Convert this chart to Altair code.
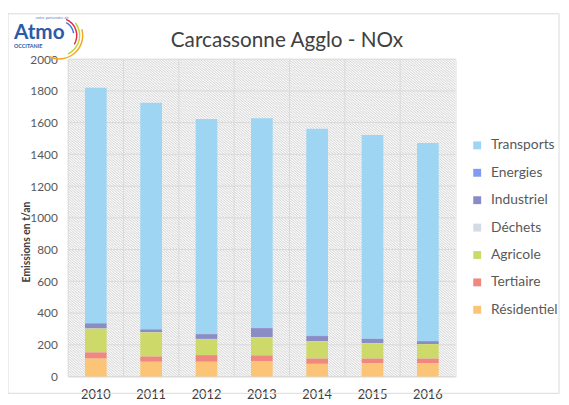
import altair as alt
import pandas as pd

# ---------------- data ----------------
years = ["2010", "2011", "2012", "2013", "2014", "2015", "2016"]
transports = [1484, 1427, 1354, 1322, 1306, 1284, 1248]
energies = [1, 1, 1, 1, 1, 1, 1]
industriel = [32, 18, 30, 56, 32, 26, 18]
dechets = [1, 1, 1, 1, 1, 1, 1]
agricole = [150, 152, 101, 115, 109, 97, 91]
tertiaire = [39, 33, 42, 35, 33, 28, 28]
residentiel = [113, 93, 93, 98, 80, 85, 85]

sectors = ["Transports", "Energies", "Industriel", "Déchets", "Agricole", "Tertiaire", "Résidentiel"]
colors = ["#9DD5F2", "#7F9CF2", "#8A8CC6", "#D5DAE4", "#CDDA6A", "#F08780", "#FBC477"]
y_ticks = [0, 200, 400, 600, 800, 1000, 1200, 1400, 1600, 1800, 2000]

chart_title = "Carcassonne Agglo - NOx"
y_title = "Emissions en t/an"

series = {
    "Transports": transports, "Energies": energies, "Industriel": industriel,
    "Déchets": dechets, "Agricole": agricole, "Tertiaire": tertiaire,
    "Résidentiel": residentiel,
}
rows = []
for i, s in enumerate(sectors):
    for y, v in zip(years, series[s]):
        rows.append({"year": y, "sector": s, "value": v, "stack": len(sectors) - 1 - i})
df = pd.DataFrame(rows)

# ---------------- layout ----------------
W, H = 393, 322
FONT = "Lato"

x_scale = alt.Scale(domain=years, paddingInner=0, paddingOuter=0)
y_scale = alt.Scale(domain=[0, 2000], nice=False, zero=True)

x_axis = alt.Axis(title=None, labelAngle=0, ticks=False, domain=False, grid=False,
                  labelFont=FONT, labelFontSize=13, labelColor="#404040",
                  labelPadding=12)
y_axis = alt.Axis(values=y_ticks, format="d", grid=False, ticks=False, domain=False,
                  labelFont=FONT, labelFontSize=12, labelColor="#595959",
                  labelPadding=11, title=y_title, titleFont=FONT,
                  titleFontSize=10.5, titleFontWeight="bold", titleColor="#404040",
                  titleAngle=270, titleX=-42, titleY=185,
                  titleAlign="center", titleBaseline="middle")

one = pd.DataFrame({"k": [0]})

# hatched background (diagonal stripes via a gradient)
n_stripes = 262
stops = []
for k in range(n_stripes):
    stops.append(alt.GradientStop(color="#ffffff", offset=k / n_stripes))
    stops.append(alt.GradientStop(color="#d6d6d6", offset=(k + 0.5) / n_stripes))
stops.append(alt.GradientStop(color="#ffffff", offset=1))
hatch = alt.LinearGradient(gradient="linear", stops=stops, x1=0, y1=1, x2=1, y2=0)

background = alt.Chart(one).mark_rect(fill=hatch).encode(
    x=alt.value(0), x2=alt.value(W), y=alt.value(0), y2=alt.value(H)
)

vgrid = alt.Chart(pd.DataFrame({"year": years})).mark_rule(color="#d9d9d9", strokeWidth=1).encode(
    x=alt.X("year:N", bandPosition=0, scale=x_scale, sort=years, axis=x_axis)
)
hgrid = alt.Chart(pd.DataFrame({"value": y_ticks})).mark_rule(color="#d9d9d9", strokeWidth=1).encode(
    y=alt.Y("value:Q", scale=y_scale, axis=y_axis)
)

bars = alt.Chart(df).mark_bar(size=22).encode(
    x=alt.X("year:N", scale=x_scale, sort=years, axis=x_axis),
    y=alt.Y("value:Q", stack="zero", scale=y_scale, axis=y_axis),
    color=alt.Color("sector:N", scale=alt.Scale(domain=sectors, range=colors),
                    legend=alt.Legend(title=None, orient="none", legendX=408, legendY=80.5,
                                      symbolType="square", symbolSize=64,
                                      symbolStrokeWidth=0, labelFont=FONT,
                                      labelFontSize=14, labelColor="#595959",
                                      labelOffset=7, rowPadding=13.8, padding=0)),
    order=alt.Order("stack:Q", sort="ascending"),
)

title = alt.Chart(pd.DataFrame({"t": [chart_title]})).mark_text(
    font=FONT, fontSize=21, color="#404040", align="center", baseline="middle"
).encode(x=alt.value(222), y=alt.value(-18), text="t:N")

# logo
logo_main = alt.Chart(pd.DataFrame({"t": ["Atmo"]})).mark_text(
    font=FONT, fontSize=21, fontWeight="bold", color="#2B5BA6", align="left", baseline="alphabetic"
).encode(x=alt.value(-55), y=alt.value(-20), text="t:N")
logo_sub = alt.Chart(pd.DataFrame({"t": ["OCCITANIE"]})).mark_text(
    font=FONT, fontSize=5.5, fontWeight="bold", color="#2B5BA6", align="left", baseline="alphabetic"
).encode(x=alt.value(-55), y=alt.value(-11.3), text="t:N")
logo_top = alt.Chart(pd.DataFrame({"t": ["votre partenaire air"]})).mark_text(
    font=FONT, fontSize=4, color="#5b7bb8", align="left", baseline="alphabetic"
).encode(x=alt.value(-33), y=alt.value(-40.5), text="t:N")

def arc(r_in, r_out, t1, t2, col):
    return alt.Chart(one).mark_arc(
        radius=r_out, radius2=r_in, theta=t1, theta2=t2, color=col
    ).encode(x=alt.value(-9), y=alt.value(-24))

arcs = [
    arc(14, 15.5, 0.5, 1.4, "#3A7BD5"),
    arc(17, 18.5, 0.4, 2.1, "#E52A4C"),
    arc(20, 21.5, 0.9, 2.7, "#C5D632"),
    arc(23, 24.5, 1.3, 3.6, "#F5A623"),
]

frame = alt.Chart(one).mark_rect(fillOpacity=0, stroke="#d9d9d9", strokeWidth=1).encode(
    x=alt.value(-61), x2=alt.value(498), y=alt.value(-46), y2=alt.value(339)
)

chart = alt.layer(
    frame, background, vgrid, hgrid, bars, title, logo_main, logo_sub, logo_top, *arcs
).properties(
    width=W, height=H,
    autosize=alt.AutoSizeParams(type="none"),
    padding={"left": 61, "top": 49, "right": 107, "bottom": 26},
).configure_view(stroke="#d9d9d9", strokeWidth=1).configure(background="#ffffff")

chart.save("out.html", embed_options={"renderer": "svg", "actions": False})
